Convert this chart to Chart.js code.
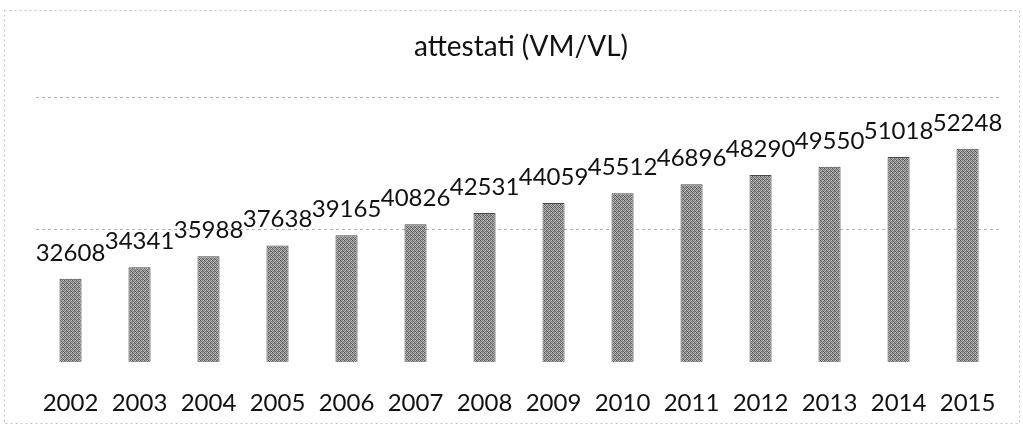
<!DOCTYPE html>
<html>
<head>
<meta charset="utf-8">
<title>attestati (VM/VL)</title>
<script src="https://cdn.jsdelivr.net/npm/chart.js@4/dist/chart.umd.min.js"></script>
<style>
  html, body { margin: 0; padding: 0; background: #fff; }
  #wrap { width: 1023px; height: 427px; }
</style>
</head>
<body>
<div id="wrap"><canvas id="grafico" width="1023" height="427"></canvas></div>
<script>
const ctx = document.getElementById('grafico').getContext('2d');

// Dati ----------------------------------------------------------------------
const anni = ['2002','2003','2004','2005','2006','2007','2008','2009','2010','2011','2012','2013','2014','2015']
const attestati = [32608, 34341, 35988, 37638, 39165, 40826, 42531, 44059, 45512, 46896, 48290, 49550, 51018, 52248]
const titolo = 'attestati (VM/VL)'

// retino grigio per le barre (stampa a puntini)
function CreaRetino() {
  const c = document.createElement('canvas');
  c.width = 4; c.height = 4;
  const g = c.getContext('2d');
  const toni = [
    '#505050','#b0b0b0','#747474','#c4c4c4',
    '#a0a0a0','#646464','#b8b8b8','#7a7a7a',
    '#7e7e7e','#c0c0c0','#5c5c5c','#a8a8a8',
    '#b8b8b8','#707070','#9a9a9a','#565656'
  ];
  for (let i = 0; i < 16; i++) {
    g.fillStyle = toni[i];
    g.fillRect(i % 4, Math.floor(i / 4), 1, 1);
  }
  return ctx.createPattern(c, 'repeat');
}

// cornice tratteggiata del grafico
const cornice = {
  id: 'cornice',
  beforeDraw(chart) {
    const c = chart.ctx;
    c.save();
    c.fillStyle = '#fff';
    c.fillRect(0, 0, chart.width, chart.height);
    c.strokeStyle = '#c4c4c4';
    c.lineWidth = 1;
    c.setLineDash([2, 3]);
    c.strokeRect(4.5, 10.5, 1015, 413);
    c.restore();
  }
}

// valori sopra le barre
const etichette = {
  id: 'etichette',
  afterDatasetsDraw(chart) {
    const c = chart.ctx;
    const meta = chart.getDatasetMeta(0);
    c.save();
    c.font = '24px Lato';
    c.fillStyle = '#111';
    c.textAlign = 'center';
    c.textBaseline = 'alphabetic';
    meta.data.forEach((barra, i) => {
      c.fillText(String(attestati[i]), barra.x, barra.y - 18);
    });
    c.restore();
  }
}

const data = {
  labels: anni,
  datasets: [{
    data: attestati,
    backgroundColor: CreaRetino(),
    borderColor: '#4a4a4a',
    borderWidth: 1,
    categoryPercentage: 1,
    barPercentage: 0.32
  }]
}

const config = {
  type: 'bar',
  data,
  options: {
    responsive: false,
    animation: false,
    layout: {
      padding: { top: 0, left: 36, right: 17, bottom: 0 }
    },
    scales: {
      x: {
        grid: { display: false, drawTicks: false },
        border: { display: false },
        ticks: {
          color: '#111',
          padding: 27,
          font: { family: 'Lato', size: 24 }
        },
        afterFit: (scala) => { scala.height = 65 }
      },
      y: {
        min: 20000,
        max: 60000,
        ticks: { display: false, stepSize: 20000 },
        grid: {
          drawTicks: false,
          lineWidth: 1,
          color: (c) => c.tick && c.tick.value === 20000 ? 'rgba(0,0,0,0)' : '#b4b4b4'
        },
        border: { display: false, dash: [3, 3] }
      }
    },
    plugins: {
      legend: false,
      tooltip: { enabled: false },
      title: {
        display: true,
        text: titolo,
        color: '#111',
        font: { family: 'Lato', size: 28, weight: 'normal' },
        padding: { top: 30, bottom: 34 }
      }
    }
  },
  plugins: [cornice, etichette]
}

const grafico = new Chart(ctx, config);
</script>
</body>
</html>
